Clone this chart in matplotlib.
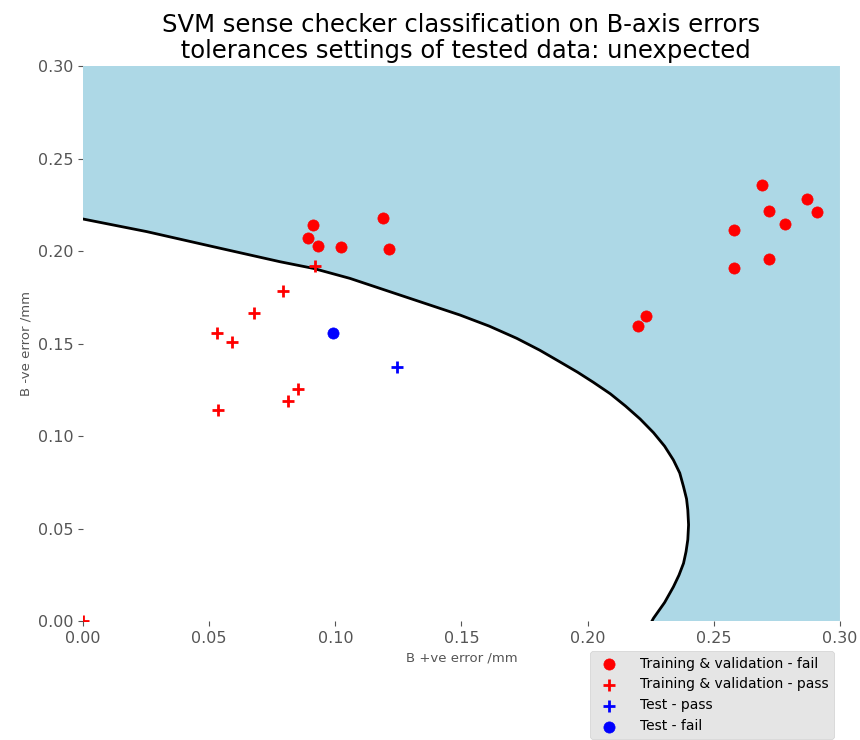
import numpy as np
import matplotlib
matplotlib.use("Agg")
import matplotlib.pyplot as plt

# training & validation points that fail
fail_x = [0.0912, 0.0892, 0.0931, 0.1023, 0.1189, 0.1213,
          0.2693, 0.2870, 0.2719, 0.2909, 0.2782, 0.2579,
          0.2719, 0.2579, 0.2230, 0.2199]
fail_y = [0.2140, 0.2073, 0.2027, 0.2022, 0.2178, 0.2011,
          0.2355, 0.2283, 0.2215, 0.2211, 0.2144, 0.2112,
          0.1959, 0.1910, 0.1647, 0.1595]

# training & validation points that pass
pass_x = [0.0920, 0.0793, 0.0679, 0.0531, 0.0592, 0.0851, 0.0813, 0.0535, 0.0]
pass_y = [0.1919, 0.1784, 0.1663, 0.1559, 0.1510, 0.1254, 0.1189, 0.1141, 0.0]

# test data
test_pass_x = [0.1245]
test_pass_y = [0.1373]
test_fail_x = [0.0991]
test_fail_y = [0.1555]

# decision boundary
bnd_x = [0.0000, 0.0252, 0.0517, 0.0781, 0.0913, 0.1058, 0.1256, 0.1494,
         0.1610, 0.1719, 0.1810, 0.1891, 0.1960, 0.2023, 0.2090, 0.2150,
         0.2208, 0.2261, 0.2305, 0.2340, 0.2365, 0.2380, 0.2392, 0.2397,
         0.2400, 0.2397, 0.2390, 0.2380, 0.2362, 0.2340, 0.2305, 0.2261,
         0.2255]
bnd_y = [0.2173, 0.2105, 0.2023, 0.1942, 0.1906, 0.1852, 0.1762, 0.1654,
         0.1594, 0.1528, 0.1464, 0.1400, 0.1345, 0.1290, 0.1228, 0.1162,
         0.1092, 0.1018, 0.0945, 0.0870, 0.0800, 0.0726, 0.0660, 0.0600,
         0.0520, 0.0440, 0.0375, 0.0312, 0.0248, 0.0185, 0.0100, 0.0015,
         0.0000]

plt.style.use("ggplot")

fig = plt.figure(figsize=(8.6, 7.4), dpi=100)
ax = fig.add_axes([0.0965, 0.1608, 0.8802, 0.75])
ax.set_facecolor("white")
ax.grid(False)

# region classed as fail (outside the boundary)
poly_x = bnd_x + [0.30, 0.30, 0.0]
poly_y = bnd_y + [0.0, 0.30, 0.30]
ax.fill(poly_x, poly_y, color="lightblue", lw=0, zorder=1)
ax.plot(bnd_x, bnd_y, color="black", lw=2, zorder=2)

ax.scatter(fail_x, fail_y, c="red", marker="o", s=65, zorder=3,
           label="Training & validation - fail")
ax.scatter(pass_x, pass_y, c="red", marker="+", s=65, linewidths=2, zorder=3,
           label="Training & validation - pass")
ax.scatter(test_pass_x, test_pass_y, c="blue", marker="+", s=65, linewidths=2,
           zorder=3, label="Test - pass")
ax.scatter(test_fail_x, test_fail_y, c="blue", marker="o", s=65, zorder=3,
           label="Test - fail")

ax.set_xlim(0, 0.30)
ax.set_ylim(0, 0.30)
ax.set_xticks(np.arange(0, 0.31, 0.05))
ax.set_yticks(np.arange(0, 0.31, 0.05))
ax.tick_params(labelsize=11.5, colors="#555555")
ax.set_xlabel("B +ve error /mm", fontsize=9.5, color="#555555")
ax.set_ylabel("B -ve error /mm", fontsize=9.5, color="#555555")
ax.set_title("SVM sense checker classification on B-axis errors\n"
             " tolerances settings of tested data: unexpected",
             fontsize=17.5, color="black", pad=6, linespacing=1.1)
for sp in ax.spines.values():
    sp.set_visible(False)

leg = ax.legend(loc="upper right", bbox_to_anchor=(0.992, -0.054),
                fontsize=10, facecolor="#E5E5E5", edgecolor="#D0D0D0",
                framealpha=1, borderaxespad=0, handletextpad=1.2)

fig.savefig("out.png", dpi=100)
